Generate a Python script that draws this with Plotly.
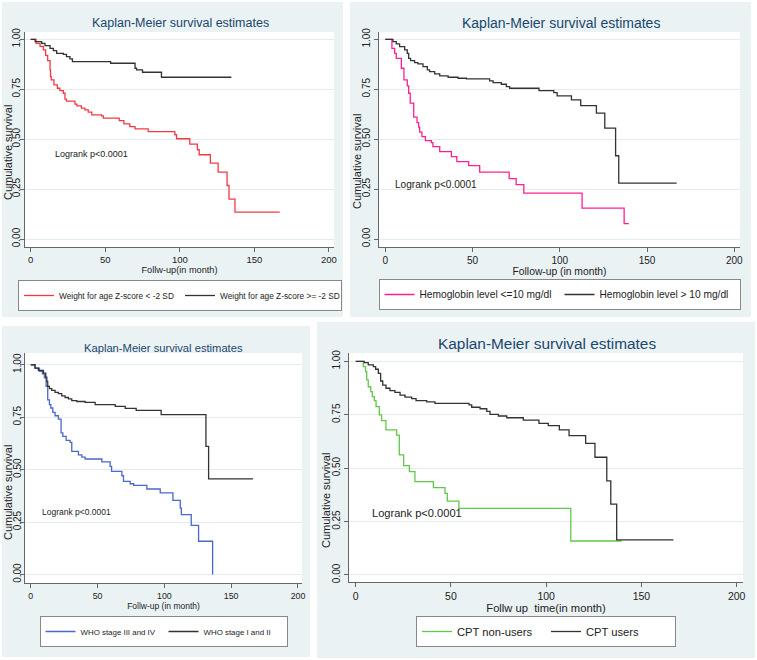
import plotly.graph_objects as go

# ---------------- data (time in months, survival probability) ----------------
p1_red_t = [0, 3.6, 6.3, 8.5, 10, 11.4, 13, 13.3, 13.8, 15.6, 17.9, 19.6, 21.9, 23, 24, 29.7, 31, 34, 36.4, 38.6, 41, 47.5, 48.7, 59.4, 62.5, 66.5, 70, 78.8, 96.7, 97.8, 106.7, 111.8, 113, 120.5, 125.7, 131.7, 133, 137, 167]
p1_red_s = [1.0, 0.98, 0.965, 0.947, 0.92, 0.893, 0.847, 0.813, 0.797, 0.772, 0.755, 0.743, 0.73, 0.70, 0.69, 0.675, 0.667, 0.655, 0.647, 0.635, 0.622, 0.617, 0.605, 0.593, 0.577, 0.563, 0.552, 0.538, 0.522, 0.502, 0.475, 0.447, 0.422, 0.38, 0.335, 0.268, 0.2, 0.135, 0.135]
p1_blk_t = [0, 3, 7.4, 9.6, 13, 15.2, 17.4, 21.9, 24, 26.3, 28, 53.6, 70, 71, 75, 87.7, 134.6]
p1_blk_s = [1.0, 0.988, 0.98, 0.968, 0.955, 0.943, 0.93, 0.925, 0.913, 0.902, 0.888, 0.88, 0.855, 0.847, 0.835, 0.81, 0.81]

p2_pink_t = [0, 3.8, 5.4, 6.3, 9.2, 10.7, 12.6, 13.4, 14.3, 16.3, 18.2, 19.1, 19.7, 21, 23, 26.4, 27.3, 31.2, 37.9, 41, 47.8, 54.1, 71, 75, 79.4, 112.8, 136.9, 139.6]
p2_pink_s = [1.0, 0.955, 0.93, 0.905, 0.855, 0.797, 0.767, 0.73, 0.68, 0.61, 0.583, 0.56, 0.535, 0.513, 0.493, 0.483, 0.463, 0.438, 0.413, 0.388, 0.367, 0.335, 0.302, 0.272, 0.23, 0.155, 0.077, 0.077]
p2_blk_t = [0, 4.4, 6.3, 8.2, 11.1, 12.6, 13.4, 14.5, 16.8, 18.7, 21.6, 24.1, 25.4, 28.3, 31.2, 36, 41.7, 46.5, 59.8, 61.8, 66.5, 69.4, 71.3, 88.1, 96.6, 98.5, 106.7, 112, 121, 125.8, 132, 133.8, 167]
p2_blk_s = [1.0, 0.988, 0.977, 0.963, 0.947, 0.93, 0.905, 0.893, 0.883, 0.877, 0.863, 0.847, 0.838, 0.827, 0.817, 0.81, 0.805, 0.802, 0.792, 0.783, 0.775, 0.763, 0.755, 0.743, 0.733, 0.717, 0.697, 0.668, 0.63, 0.555, 0.417, 0.28, 0.28]

p3_blue_t = [0, 3.2, 6.5, 8.7, 10.2, 11.5, 12.7, 14, 15, 16.5, 18.2, 20.7, 22.7, 24, 26.5, 29.5, 30.7, 35.7, 38.2, 40.7, 53.2, 59.4, 60.5, 68.2, 69.4, 74.4, 77, 86.9, 96.9, 106.4, 111.9, 112.7, 120.1, 125.6, 136.1]
p3_blue_s = [1.0, 0.984, 0.968, 0.957, 0.937, 0.897, 0.833, 0.81, 0.794, 0.773, 0.757, 0.741, 0.675, 0.659, 0.64, 0.63, 0.587, 0.571, 0.56, 0.551, 0.537, 0.516, 0.492, 0.471, 0.444, 0.433, 0.425, 0.408, 0.389, 0.354, 0.317, 0.286, 0.235, 0.159, 0.0]
p3_blk_t = [0, 3.2, 5.7, 9.5, 11.2, 12, 12.7, 14, 15.7, 18.2, 20.7, 23.2, 25.7, 28.2, 30.7, 34.5, 40.7, 48.2, 63.2, 70.7, 78.9, 97.6, 131.1, 133.1, 166.3]
p3_blk_s = [1.0, 0.984, 0.973, 0.96, 0.941, 0.921, 0.897, 0.886, 0.878, 0.868, 0.862, 0.852, 0.844, 0.837, 0.829, 0.825, 0.821, 0.81, 0.802, 0.792, 0.783, 0.762, 0.611, 0.456, 0.456]

p4_green_t = [0, 4, 5.2, 5.8, 6.6, 7.9, 8.7, 9.8, 10.7, 12.4, 13.6, 15.9, 21.5, 22.9, 25.2, 28.2, 31.1, 40.8, 46.9, 48.1, 54.2, 112.9, 139.6]
p4_green_s = [1.0, 0.975, 0.952, 0.913, 0.881, 0.858, 0.835, 0.816, 0.788, 0.749, 0.722, 0.679, 0.655, 0.562, 0.512, 0.484, 0.437, 0.409, 0.382, 0.346, 0.312, 0.159, 0.159]
p4_blk_t = [0, 4.5, 6.6, 9.3, 10.5, 11.9, 13.1, 14.2, 15.9, 18, 20.6, 23.3, 25.9, 29.4, 31.7, 37.3, 41.6, 59.5, 60.9, 65.3, 68.8, 70.5, 74.9, 79.3, 88, 96.2, 101.1, 106.9, 112, 120.7, 125.6, 131.8, 133.9, 137, 166.8]
p4_blk_s = [1.0, 0.994, 0.983, 0.975, 0.963, 0.944, 0.908, 0.889, 0.874, 0.863, 0.855, 0.842, 0.832, 0.825, 0.816, 0.81, 0.803, 0.796, 0.785, 0.778, 0.766, 0.752, 0.744, 0.736, 0.725, 0.71, 0.699, 0.679, 0.652, 0.616, 0.551, 0.44, 0.332, 0.164, 0.164]

x_ticks = [0, 50, 100, 150, 200]
y_ticks = [0, 0.25, 0.5, 0.75, 1.0]
y_tick_labels = ["0.00", "0.25", "0.50", "0.75", "1.00"]

titles = ["Kaplan-Meier survival estimates"] * 4
x_titles = ["Follw-up(in month)", "Follow-up (in month)", "Follw-up (in month)", "Follw up  time(in month)"]
y_title = "Cumulative survival"
logrank = "Logrank p<0.0001"
legend_names = [
    ("Weight for age Z-score < -2 SD", "Weight for age Z-score >= -2 SD"),
    ("Hemoglobin level <=10 mg/dl", "Hemoglobin level > 10 mg/dl"),
    ("WHO stage III and IV", "WHO stage I and II"),
    ("CPT non-users", "CPT users"),
]

# ---------------- layout helpers ----------------
W, H = 757, 660
def fx(px):
    return px / W
def fy(py):
    return 1 - py / H

REG = "Liberation Sans, Arial, sans-serif"
TITLE_C = "#1A476F"
BG = "#EAF2F3"
BLK = "#333333"

panels = [
    dict(bg=(2, 2, 343, 317), xd=(25, 334), yd=(32, 247), xr=(-3.8, 203.4), yr=(-0.040, 1.0366),
         tsize=12.5, tick=9.5, xt=9.2, leg=8.3, lr=9, ystand=-4,
         title_xy=(180, 23), ytitle_xy=(8, 153), lr_xy=(14.75, 0.426),
         leg_top=280, leg_x=180, entry=116,
         series=[(p1_red_t, p1_red_s, "#F23A45"), (p1_blk_t, p1_blk_s, BLK)]),
    dict(bg=(350, 2, 751, 317), xd=(379, 740), yd=(32, 247), xr=(-3.6, 203.3), yr=(-0.040, 1.0366),
         tsize=14, tick=10, xt=10.3, leg=10.2, lr=10.1, ystand=0,
         title_xy=(561, 23), ytitle_xy=(357, 162), lr_xy=(4.4, 0.275),
         leg_top=279, leg_x=559.5, entry=135,
         series=[(p2_pink_t, p2_pink_s, "#FF2090"), (p2_blk_t, p2_blk_s, BLK)]),
    dict(bg=(2, 326, 310, 657), xd=(25, 302), yd=(353, 583), xr=(-4.3, 203.0), yr=(-0.04, 1.056),
         tsize=11.2, tick=8.8, xt=8.5, leg=7.9, lr=8.5, ystand=-5,
         title_xy=(163, 348), ytitle_xy=(8, 493), lr_xy=(7.0, 0.297),
         leg_top=616, leg_x=163.5, entry=78,
         series=[(p3_blue_t, p3_blue_s, "#4A68C8"), (p3_blk_t, p3_blk_s, BLK)]),
    dict(bg=(317, 322, 755, 658), xd=(349, 743), yd=(353, 582), xr=(-3.5, 203.3), yr=(-0.033, 1.039),
         tsize=15.4, tick=10.5, xt=11.2, leg=11.2, lr=11.1, ystand=0,
         title_xy=(547, 343), ytitle_xy=(326, 501), lr_xy=(7.5, 0.292),
         leg_top=616, leg_x=546, entry=84,
         series=[(p4_green_t, p4_green_s, "#62C84A"), (p4_blk_t, p4_blk_s, BLK)]),
]

fig = go.Figure()
shapes = []
annotations = []
layout_axes = {}

for i, p in enumerate(panels):
    k = "" if i == 0 else str(i + 1)
    xa, ya = "x" + k, "y" + k
    leg = "legend" + k
    for j, (t, s, c) in enumerate(p["series"]):
        fig.add_trace(go.Scatter(
            x=t, y=s, mode="lines", line=dict(color=c, width=1.3, shape="hv"),
            name=legend_names[i][j], xaxis=xa, yaxis=ya, legend=leg,
            hoverinfo="skip"))
    x0, y0, x1, y1 = p["bg"]
    shapes.append(dict(type="rect", xref="paper", yref="paper", layer="below",
                       x0=fx(x0), x1=fx(x1), y0=fy(y1), y1=fy(y0),
                       fillcolor=BG, line=dict(width=0)))
    shapes.append(dict(type="rect", xref="paper", yref="paper", layer="below",
                       x0=fx(p["xd"][0]), x1=fx(p["xd"][1]), y0=fy(p["yd"][1]), y1=fy(p["yd"][0]),
                       fillcolor="white", line=dict(width=0)))
    layout_axes["xaxis" + k] = dict(
        domain=[fx(p["xd"][0]), fx(p["xd"][1])], anchor=ya, range=list(p["xr"]),
        tickvals=x_ticks, ticks="outside", ticklen=4, tickcolor="#666666",
        showline=True, linecolor="#666666", linewidth=1, showgrid=False, zeroline=False,
        tickfont=dict(family=REG, size=p["tick"], color="#222222"),
        title=dict(text=x_titles[i], standoff=1,
                   font=dict(family=REG, size=p["xt"], color="#222222")))
    layout_axes["yaxis" + k] = dict(
        domain=[fy(p["yd"][1]), fy(p["yd"][0])], anchor=xa, range=list(p["yr"]),
        tickvals=y_ticks, ticktext=y_tick_labels, tickangle=-90,
        ticks="outside", ticklen=4, tickcolor="#666666", ticklabelstandoff=p["ystand"],
        showline=True, linecolor="#666666", linewidth=1,
        showgrid=True, gridcolor="#E3EDEF", gridwidth=1, zeroline=False,
        tickfont=dict(family=REG, size=10, color="#222222"))
    annotations.append(dict(text=titles[i], xref="paper", yref="paper",
                            x=fx(p["title_xy"][0]), y=fy(p["title_xy"][1]),
                            xanchor="center", yanchor="middle", showarrow=False,
                            font=dict(family=REG, size=p["tsize"], color=TITLE_C)))
    annotations.append(dict(text=y_title, xref="paper", yref="paper", textangle=-90,
                            x=fx(p["ytitle_xy"][0]), y=fy(p["ytitle_xy"][1]),
                            xanchor="center", yanchor="middle", showarrow=False,
                            font=dict(family=REG, size=11, color="#222222")))
    annotations.append(dict(text=logrank, xref=xa, yref=ya,
                            x=p["lr_xy"][0], y=p["lr_xy"][1],
                            xanchor="left", yanchor="middle", showarrow=False,
                            font=dict(family=REG, size=p["lr"], color="#222222")))
    layout_axes[leg] = dict(
        orientation="h", xref="paper", yref="paper",
        x=fx(p["leg_x"]), y=fy(p["leg_top"]), xanchor="center", yanchor="top",
        bgcolor="white", bordercolor="#888888", borderwidth=1,
        entrywidth=p["entry"], entrywidthmode="pixels", itemwidth=30,
        font=dict(family=REG, size=p["leg"], color="#222222"))

fig.update_layout(
    width=W, height=H, margin=dict(l=0, r=0, t=0, b=0, autoexpand=False),
    paper_bgcolor="white", plot_bgcolor="rgba(0,0,0,0)",
    showlegend=True, shapes=shapes, annotations=annotations, **layout_axes)

fig.write_html("out.html", config={"displayModeBar": False},
               post_script="document.body.style.margin='0px';")
